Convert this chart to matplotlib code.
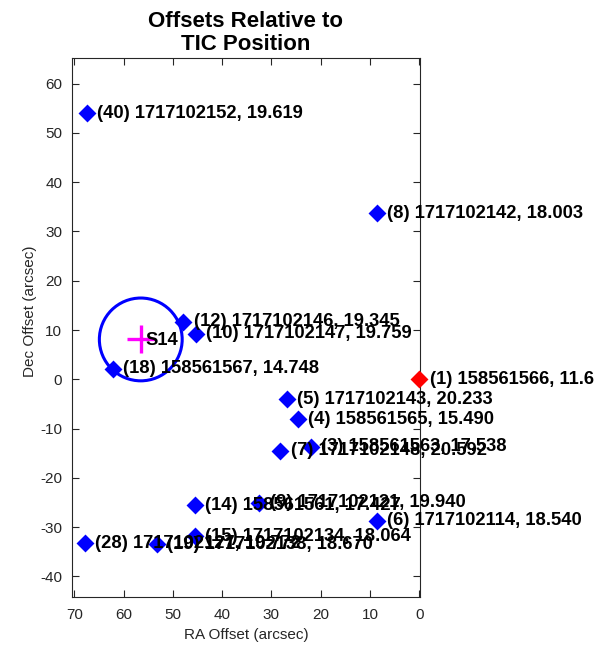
import matplotlib
matplotlib.use("Agg")
import matplotlib.pyplot as plt
from matplotlib.patches import Circle

plt.rcParams['font.family'] = ['Liberation Sans', 'DejaVu Sans']
plt.rcParams['axes.unicode_minus'] = False

# Neighbouring sources: RA offset, Dec offset (arcsec), label
src_ids = [1, 40, 8, 12, 10, 18, 5, 4, 7, 3, 14, 9, 6, 28, 19, 15]
ra_off = [0.0, 67.4, 8.6, 47.9, 45.3, 62.2, 26.9, 24.7, 28.2, 22.0, 45.6, 32.5, 8.6, 67.8, 53.3, 45.6]
dec_off = [0.0, 54.0, 33.7, 11.7, 9.3, 2.2, -4.0, -8.1, -14.5, -13.7, -25.5, -25.0, -28.7, -33.3, -33.5, -31.8]
tic_ids = ["158561566", "1717102152", "1717102142", "1717102146", "1717102147",
           "158561567", "1717102143", "158561565", "1717102148", "158561563",
           "158561561", "1717102121", "1717102114", "1717102127", "1717102138",
           "1717102134"]
tmags = ["11.6", "19.619", "18.003", "19.345", "19.759", "14.748", "20.233",
         "15.490", "20.592", "17.538", "17.427", "19.940", "18.540", "19.772",
         "18.670", "18.064"]

# Difference-image centroid (sector 14)
centroid_ra = 56.5
centroid_dec = 8.1
centroid_radius = 8.4
centroid_label = "S14"

fig = plt.figure(figsize=(6.06, 6.49), dpi=100)
ax = fig.add_axes([72/606, 1 - 597/649, 348/606, 539/649])

ax.set_xlim(70.45, -0.14)
ax.set_ylim(-44.16, 65.2)
ax.set_xticks(range(0, 71, 10))
ax.set_yticks(range(-40, 61, 10))

axc = '#262626'
for s in ax.spines.values():
    s.set_color(axc)
    s.set_linewidth(0.8)
ax.tick_params(direction='in', length=5, width=0.8, color=axc, labelcolor=axc,
               labelsize=11, top=True, right=True, pad=8)
ax.tick_params(axis='y', pad=7)

for i, (x, y) in enumerate(zip(ra_off, dec_off)):
    col = 'red' if i == 0 else 'blue'
    ax.plot([x], [y], marker='D', linestyle='none', markersize=7,
            markerfacecolor=col, markeredgecolor=col, markeredgewidth=2.0,
            clip_on=False, zorder=3)
    ax.annotate(f"({src_ids[i]}) {tic_ids[i]}, {tmags[i]}", (x, y),
                xytext=(7.5, 0), textcoords='offset points',
                ha='left', va='center', fontsize=13.2, fontweight='bold',
                color='black', zorder=4, annotation_clip=False)

ax.add_patch(Circle((centroid_ra, centroid_dec), centroid_radius, fill=False,
                    edgecolor='blue', linewidth=2.2, zorder=2))
ax.plot([centroid_ra], [centroid_dec], marker='+', markersize=20,
        markeredgewidth=2.4, color='magenta', linestyle='none', zorder=3)
ax.annotate(centroid_label, (centroid_ra, centroid_dec), xytext=(3.5, -1),
            textcoords='offset points', ha='left', va='center',
            fontsize=13.2, fontweight='bold', color='black', zorder=4)

ax.set_xlabel("RA Offset (arcsec)", fontsize=11, color=axc, labelpad=4)
ax.set_ylabel("Dec Offset (arcsec)", fontsize=11, color=axc)
ax.yaxis.set_label_coords(-0.10, 0.53)
ax.set_title("Offsets Relative to\nTIC Position", fontsize=16, fontweight='bold',
             linespacing=1.1, pad=6)

fig.savefig("out.png", dpi=100)
